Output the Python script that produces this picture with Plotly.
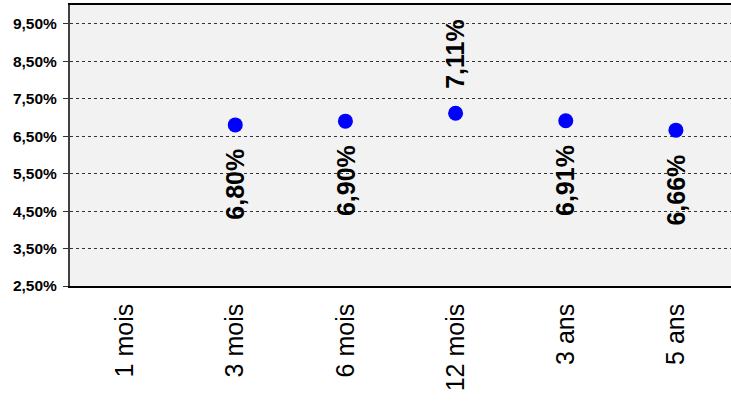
import plotly.graph_objects as go

categories = ["1 mois", "3 mois", "6 mois", "12 mois", "3 ans", "5 ans"]
taux = [None, 6.80, 6.90, 7.11, 6.91, 6.66]
label_above = [False, False, False, True, False, False]
y_ticks = [2.5, 3.5, 4.5, 5.5, 6.5, 7.5, 8.5, 9.5]
y_tick_text = [f"{t:.2f}%".replace(".", ",") for t in y_ticks]

FONT = "Liberation Sans, Arial, sans-serif"

fig = go.Figure()
fig.add_trace(go.Scatter(
    x=categories, y=taux, mode="markers",
    marker=dict(color="#0000ff", size=15, line=dict(width=0)),
    hoverinfo="skip", showlegend=False,
))

for c, v, up in zip(categories, taux, label_above):
    if v is None:
        continue
    fig.add_annotation(
        x=c, y=v, xref="x", yref="y",
        text="<b>" + f"{v:.2f}%".replace(".", ",") + "</b>",
        showarrow=False, textangle=-90,
        font=dict(family=FONT, size=25, color="#000000"),
        xanchor="center",
        yanchor="bottom" if up else "top",
        yshift=22 if up else -22,
    )

fig.update_layout(
    width=731, height=403,
    margin=dict(l=70, r=0, t=5, b=117),
    paper_bgcolor="#ffffff",
    plot_bgcolor="#f2f2f2",
    font=dict(family=FONT, color="#000000"),
    xaxis=dict(
        type="category", categoryorder="array", categoryarray=categories,
        range=[-0.5, len(categories) - 0.5],
        showgrid=False, zeroline=False,
        showline=True, linecolor="#000000", linewidth=1.5, mirror=True,
        ticks="", tickangle=-90, ticklabelstandoff=6,
        tickfont=dict(family=FONT, size=25, color="#000000"),
    ),
    yaxis=dict(
        range=[2.5, 10.0],
        tickvals=y_ticks, ticktext=y_tick_text,
        showgrid=True, gridcolor="#333333", griddash="dot", gridwidth=1,
        zeroline=False,
        showline=True, linecolor="#404040", linewidth=2,
        ticks="outside", ticklen=5, tickcolor="#333333", ticklabelstandoff=3,
        tickfont=dict(family=FONT, size=15.5, color="#000000", weight="bold"),
    ),
)

fig.write_html("out.html", config={"displayModeBar": False},
               post_script="document.body.style.margin='0px';")
